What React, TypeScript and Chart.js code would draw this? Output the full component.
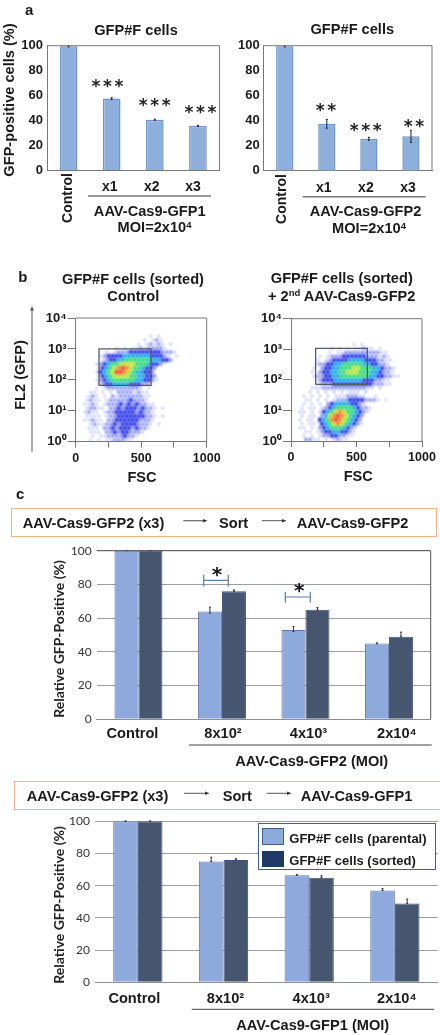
import React, { useEffect, useRef } from "react";
import { Chart, registerables } from "chart.js";

Chart.register(...registerables);

// ---------- data ----------
const aCategories = ["Control", "x1", "x2", "x3"];
const a1Values = [99.5, 57.5, 40.5, 35.5];
const a1Err = [0.4, 0.8, 0.4, 0.4];
const a2Values = [99.5, 37.5, 25.5, 27.5];
const a2Err = [0.4, 3.5, 1.2, 4.8];

const cCategories = ["Control", "8x10²", "4x10³", "2x10⁴"];
const c1Parental = [100, 64, 53, 45];
const c1ParentalPlus = [0.2, 2.5, 2, 0.3];
const c1ParentalMinus = [0, 1, 1, 0.2];
const c1Sorted = [100, 76, 65, 49];
const c1SortedPlus = [0.2, 0.7, 1.3, 2.7];
const c1SortedMinus = [0, 0, 0, 0];
const c2Parental = [100, 75, 66.5, 57];
const c2ParentalPlus = [0.2, 2.7, 0.5, 1.2];
const c2ParentalMinus = [0, 0, 0, 0];
const c2Sorted = [100, 76, 65, 49];
const c2SortedPlus = [0.2, 0.8, 1.2, 2.7];
const c2SortedMinus = [0, 0, 0, 0];

const yTicks = [0, 20, 40, 60, 80, 100];
const fscTicks = [0, 250, 500, 750, 1000];
const fscLabels = ["0", "", "500", "", "1000"];
const flTicks = [1, 10, 100, 1000, 10000];
const flLabels = ["10⁰", "10¹", "10²", "10³", "10⁴"];

const gate1X = [178, 575, 575, 178, 178];
const gate1Y = [66, 66, 1000, 1000, 66];
const gate2X = [188, 583, 583, 188, 188];
const gate2Y = [71, 71, 1070, 1070, 71];

// density, by cell: . = none, 1 sparse ... 8 peak
const density1 = [
  ".................................",
  ".................................",
  ".................................",
  ".................................",
  "..................1.1............",
  ".................1.121...........",
  "...............1.12121.1.........",
  "..........1.1.112122221..........",
  ".......1.1222333333332221........",
  "......123333444444433321.1.......",
  "......123344555555444332.........",
  ".....12345566665554332...........",
  ".....134567876554332.............",
  ".....134568876544332.............",
  ".....134566665544332.............",
  ".....1234555555443321............",
  ".....12334444333221..............",
  ".....1.1222222221.1..............",
  "...11.1.1.22221211...............",
  "...121.1.2122222211..............",
  "..1211.12222232221...............",
  "..1121.1222323232211.............",
  "..12211.223233323221.1...........",
  "..1211.1223333323221.............",
  "..1111.1223333333221.1...........",
  "..11211.223333332221.............",
  "...1211223233332221.1............",
  "...111.223233323221..............",
  "...111.2232332221................",
  "....1.1122223221.................",
  "...1.1.1122211...................",
];
const density2 = [
  ".................................",
  ".................................",
  ".................................",
  ".................................",
  ".................................",
  ".................................",
  "...............1.1...............",
  "..........1.1.1.11211.1..........",
  ".........1.1122222222211.........",
  ".......1.1222333333222121........",
  "......1.12333344443332211........",
  "......1223344555554433221........",
  ".....1.2334455566555443221.......",
  ".....1.2334455666555443221.......",
  ".....1223344555555544332211......",
  "......1233344444443332211........",
  "......1222333333333322211........",
  ".....1112222222222211.1..........",
  "....1.1.1.1.1.111.1..............",
  "...1.1.1.1.11122211..1...........",
  "...11.1.1.122233332221.1.........",
  "...1.1.1.2344443321..............",
  "..1.11.1234555543221.............",
  "..11.1.1345676554321.............",
  "..1.11.24678765432...............",
  "..1.11.34578765432...............",
  "..1.11.34567654321...............",
  "..11.1.2345554321................",
  "...11.1233443321.................",
  "...1.1.122332211.................",
  "...2211.1.1211...................",
];
const densityColors = ["", "#8b93f4", "#5f6cf0", "#2530e4", "#12a4ea", "#28d878", "#b4e428", "#f08a14", "#e8401a"];
const densitySizes = [0, 1.3, 2, 2.9, 2.9, 2.9, 2.9, 2.9, 2.9];

// ---------- chart helpers ----------
type Box = { l: number; t: number; r: number; b: number };
type Rect = { left: number; top: number; w: number; h: number };

const framePlugin = (sides: string, color: string, width = 1) => ({
  id: "frame",
  afterDatasetsDraw(chart: any) {
    const { ctx, chartArea: a } = chart;
    ctx.save();
    ctx.strokeStyle = color;
    ctx.lineWidth = width;
    ctx.beginPath();
    if (sides.includes("t")) { ctx.moveTo(a.left, a.top); ctx.lineTo(a.right, a.top); }
    if (sides.includes("r")) { ctx.moveTo(a.right, a.top); ctx.lineTo(a.right, a.bottom); }
    if (sides.includes("l")) { ctx.moveTo(a.left, a.top); ctx.lineTo(a.left, a.bottom); }
    if (sides.includes("b")) { ctx.moveTo(a.left, a.bottom); ctx.lineTo(a.right, a.bottom); }
    ctx.stroke();
    ctx.restore();
  },
});

const errorPlugin = (errs: { plus: number[]; minus: number[] }[], color: string) => ({
  id: "errorBars",
  afterDatasetsDraw(chart: any) {
    const { ctx, scales } = chart;
    ctx.save();
    ctx.strokeStyle = color;
    ctx.lineWidth = 1;
    errs.forEach((e, di) => {
      const meta = chart.getDatasetMeta(di);
      meta.data.forEach((bar: any, i: number) => {
        const v = chart.data.datasets[di].data[i];
        const hi = scales.y.getPixelForValue(v + e.plus[i]);
        const lo = scales.y.getPixelForValue(v - e.minus[i]);
        ctx.beginPath();
        ctx.moveTo(bar.x, hi);
        ctx.lineTo(bar.x, lo);
        ctx.moveTo(bar.x - 1, hi);
        ctx.lineTo(bar.x + 1, hi);
        ctx.moveTo(bar.x - 1, lo);
        ctx.lineTo(bar.x + 1, lo);
        ctx.stroke();
      });
    });
    ctx.restore();
  },
});

const labelShiftPlugin = (shift: number[]) => ({
  id: "labelShift",
  afterUpdate(chart: any) {
    const items = chart.scales.x.getLabelItems();
    items.forEach((it: any, i: number) => {
      it.options.translation[0] += shift[i] || 0;
    });
  },
});

const blurPlugin = {
  id: "densityBlur",
  beforeDatasetDraw(chart: any, args: any) {
    if (chart.data.datasets[args.index].isDensity) {
      chart.ctx.save();
      chart.ctx.filter = "blur(0.8px)";
    }
  },
  afterDatasetDraw(chart: any, args: any) {
    if (chart.data.datasets[args.index].isDensity) chart.ctx.restore();
  },
};

function fit(rect: Rect, plot: Box) {
  return {
    responsive: false,
    animation: false as const,
    maintainAspectRatio: false,
    layout: {
      autoPadding: false,
      padding: { top: plot.t - rect.top, right: rect.left + rect.w - plot.r, left: 0, bottom: 0 },
    },
    plugins: { legend: { display: false }, tooltip: { enabled: false }, title: { display: false } },
  };
}

function barChart(
  canvas: HTMLCanvasElement,
  rect: Rect,
  plot: Box,
  labels: string[],
  sets: any[],
  scaleStyle: any,
  plugins: any[],
) {
  const base = fit(rect, plot);
  return new Chart(canvas, {
    type: "bar",
    data: { labels, datasets: sets },
    options: {
      ...base,
      scales: {
        x: {
          afterFit(s: any) { s.height = rect.top + rect.h - plot.b; },
          grid: { display: false, drawTicks: false },
          border: { display: true, color: scaleStyle.axisColor, width: scaleStyle.axisWidth ?? 1 },
          ticks: {
            maxRotation: 0,
            autoSkip: false,
            padding: scaleStyle.xPad,
            color: "#1a1a1a",
            font: { family: "Liberation Sans", weight: "bold", size: scaleStyle.xSize },
            callback: scaleStyle.xCallback,
          },
        },
        y: {
          min: 0,
          max: 100,
          afterFit(s: any) { s.width = plot.l - rect.left; },
          afterBuildTicks(s: any) { s.ticks = yTicks.map((value) => ({ value })); },
          grid: { ...scaleStyle.grid, drawTicks: false },
          border: { display: scaleStyle.leftAxis ?? false, color: scaleStyle.axisColor },
          ticks: { padding: scaleStyle.yPad, color: scaleStyle.yColor, font: scaleStyle.yFont },
        },
      },
    } as any,
    plugins,
  });
}

function densitySets(rows: string[], gx: number[], gy: number[]) {
  const sets: any[] = [];
  for (let level = 1; level < densityColors.length; level++) {
    const pts: { x: number; y: number }[] = [];
    rows.forEach((row, r) => {
      for (let c = 0; c < row.length; c++) {
        if (row[c] === String(level)) {
          pts.push({
            x: ((c + (r % 2 ? 0.25 : 0.75)) * 4 / 131) * 1000,
            y: Math.pow(10, 4 - ((r + 0.5) * 4 / 123.5) * 4),
          });
        }
      }
    });
    sets.push({
      isDensity: true,
      data: pts,
      order: 20 - level,
      pointStyle: "rect",
      pointRadius: densitySizes[level],
      borderWidth: 0,
      pointBorderWidth: 0,
      backgroundColor: densityColors[level],
    });
  }
  sets.push({
    data: gx.map((x, i) => ({ x, y: gy[i] })),
    showLine: true,
    order: 0,
    pointRadius: 0,
    borderColor: "#555b66",
    borderWidth: 1.3,
  });
  return sets;
}

function flowChart(canvas: HTMLCanvasElement, rect: Rect, plot: Box, rows: string[], gx: number[], gy: number[]) {
  const base = fit(rect, plot);
  return new Chart(canvas, {
    type: "scatter",
    data: { datasets: densitySets(rows, gx, gy) },
    options: {
      ...base,
      scales: {
        x: {
          type: "linear",
          min: 0,
          max: 1000,
          afterFit(s: any) { s.height = rect.top + rect.h - plot.b; },
          afterBuildTicks(s: any) { s.ticks = fscTicks.map((value) => ({ value })); },
          grid: { drawOnChartArea: false, color: "#777", tickLength: 6 },
          border: { color: "#777" },
          ticks: {
            maxRotation: 0,
            autoSkip: false,
            padding: 3,
            color: "#1a1a1a",
            font: { family: "Liberation Sans", weight: "bold", size: 12.5 },
            callback: (_: any, i: number) => fscLabels[i],
          },
        },
        y: {
          type: "logarithmic",
          min: 1,
          max: 10000,
          afterFit(s: any) { s.width = plot.l - rect.left; },
          afterBuildTicks(s: any) { s.ticks = flTicks.map((value) => ({ value })); },
          grid: { drawOnChartArea: false, color: "#777", tickLength: 8 },
          border: { color: "#777" },
          ticks: {
            padding: 1,
            color: "#1a1a1a",
            font: { family: "Liberation Sans", weight: "bold", size: 13 },
            callback: (_: any, i: number) => flLabels[i],
          },
        },
      },
    } as any,
    plugins: [blurPlugin, framePlugin("tr", "#777")],
  });
}

// ---------- layout ----------
const rects = {
  a1: { left: 0, top: 25, w: 225, h: 180 },
  a2: { left: 225, top: 25, w: 215, h: 180 },
  b1: { left: 30, top: 295, w: 195, h: 175 },
  b2: { left: 240, top: 295, w: 200, h: 175 },
  c1: { left: 65, top: 530, w: 375, h: 215 },
  c2: { left: 65, top: 800, w: 375, h: 207 },
};
const plots = {
  a1: { l: 47, t: 45.7, r: 219.5, b: 170 },
  a2: { l: 263.7, t: 45.7, r: 432, b: 170.7 },
  b1: { l: 75.7, t: 318, r: 206.7, b: 441.7 },
  b2: { l: 291, t: 318.7, r: 422, b: 441 },
  c1: { l: 96.7, t: 550.7, r: 430.7, b: 719.3 },
  c2: { l: 95, t: 821.3, r: 437.7, b: 982.3 },
};

const ARIAL = "'Liberation Sans', Arial, sans-serif";

function T({ x, y, size = 14.6, rot, anchor = "c", color = "#1a1a1a", ls, font = ARIAL, weight = "bold", children }: any) {
  const tx = anchor === "c" ? "-50%" : "0";
  return (
    <div
      style={{
        position: "absolute",
        left: x,
        top: y,
        transform: `translate(${tx},-50%)${rot ? ` rotate(${rot}deg)` : ""}`,
        fontFamily: font,
        fontWeight: weight,
        fontSize: size,
        lineHeight: 1,
        whiteSpace: "nowrap",
        color,
        letterSpacing: ls,
      }}
    >
      {children}
    </div>
  );
}
const Sup = ({ children }: any) => (
  <sup style={{ fontSize: "0.65em", verticalAlign: "baseline", position: "relative", top: "-0.45em", lineHeight: 0 }}>{children}</sup>
);
const Stars = ({ x, y, text }: any) => (
  <T x={x + 1} y={y + 3} size={17} ls={2.6} font="'DejaVu Sans', sans-serif" weight="bold" color="#222">
    {text}
  </T>
);
const Box2 = ({ l, t, r, b }: any) => (
  <div style={{ position: "absolute", left: l, top: t, width: r - l, height: b - t, boxSizing: "border-box", border: "1.5px solid #f2b28a", background: "#fff" }} />
);

export default function App() {
  const a1 = useRef<HTMLCanvasElement>(null);
  const a2 = useRef<HTMLCanvasElement>(null);
  const b1 = useRef<HTMLCanvasElement>(null);
  const b2 = useRef<HTMLCanvasElement>(null);
  const c1 = useRef<HTMLCanvasElement>(null);
  const c2 = useRef<HTMLCanvasElement>(null);

  useEffect(() => {
    const aStyle = {
      axisColor: "#777",
      xPad: 9,
      xSize: 14,
      grid: { display: false },
      leftAxis: true,
      yPad: 4,
      yColor: "#1a1a1a",
      yFont: { family: "Liberation Sans", weight: "bold", size: 13 },
      xCallback: (_: any, i: number) => (i === 0 ? "" : aCategories[i]),
    };
    const cStyle = {
      axisColor: "#8a8f96",
      axisWidth: 1,
      xSize: 14.6,
      grid: { color: "#9a9ea4", lineWidth: 1 },
      yPad: 5,
      yColor: "#333",
      yFont: { family: "Lato", size: 12 },
      xCallback: (_: any, i: number) => cCategories[i],
    };
    const aSet = (data: number[]) => ({
      data,
      backgroundColor: "#8eaedb",
      borderColor: "#6f95ca",
      borderWidth: 1.5,
      barPercentage: 0.41,
      categoryPercentage: 1,
    });
    const cSet = (data: number[], dark: boolean) => ({
      data,
      backgroundColor: dark ? "#46566f" : "#8ea9db",
      borderColor: dark ? "#3d5478" : "#5d7cb0",
      borderWidth: 1,
      barPercentage: 1,
      categoryPercentage: 0.575,
    });

    const charts = [
      barChart(a1.current!, rects.a1, plots.a1, aCategories, [aSet(a1Values)], aStyle, [
        errorPlugin([{ plus: a1Err, minus: a1Err }], "#222"),
        framePlugin("tr", "#777"),
        labelShiftPlugin([0, -2, -3, -5]),
      ]),
      barChart(a2.current!, rects.a2, plots.a2, aCategories, [aSet(a2Values)], aStyle, [
        errorPlugin([{ plus: a2Err, minus: a2Err }], "#222"),
        framePlugin("tr", "#777"),
        labelShiftPlugin([0, -3, -3, -3]),
      ]),
      flowChart(b1.current!, rects.b1, plots.b1, density1, gate1X, gate1Y),
      flowChart(b2.current!, rects.b2, plots.b2, density2, gate2X, gate2Y),
      barChart(
        c1.current!,
        rects.c1,
        plots.c1,
        cCategories,
        [cSet(c1Parental, false), cSet(c1Sorted, true)],
        { ...cStyle, xPad: 6 },
        [
          errorPlugin(
            [
              { plus: c1ParentalPlus, minus: c1ParentalMinus },
              { plus: c1SortedPlus, minus: c1SortedMinus },
            ],
            "#333",
          ),
          framePlugin("tr", "#555"),
          labelShiftPlugin([-6, 1, 3, 8]),
        ],
      ),
      barChart(
        c2.current!,
        rects.c2,
        plots.c2,
        cCategories,
        [cSet(c2Parental, false), cSet(c2Sorted, true)],
        { ...cStyle, xPad: 8 },
        [
          errorPlugin(
            [
              { plus: c2ParentalPlus, minus: c2ParentalMinus },
              { plus: c2SortedPlus, minus: c2SortedMinus },
            ],
            "#333",
          ),
          labelShiftPlugin([-3.5, 2, 2, 2]),
        ],
      ),
    ];
    return () => charts.forEach((c) => c.destroy());
  }, []);

  const cv = (ref: any, r: Rect) => (
    <canvas ref={ref} width={r.w} height={r.h} style={{ position: "absolute", left: r.left, top: r.top, width: r.w, height: r.h, display: "block" }} />
  );

  return (
    <div style={{ position: "absolute", left: 0, top: 0, width: 440, height: 1035, overflow: "hidden", background: "#fff" }}>
      <Box2 l={10.7} t={507.7} r={436.7} b={537.3} />
      <Box2 l={14.3} t={780.7} r={441} b={810} />

      {cv(a1, rects.a1)}
      {cv(a2, rects.a2)}
      {cv(b1, rects.b1)}
      {cv(b2, rects.b2)}
      {cv(c1, rects.c1)}
      {cv(c2, rects.c2)}

      <svg width={440} height={1035} style={{ position: "absolute", left: 0, top: 0, pointerEvents: "none" }}>
        <g stroke="#777" strokeWidth={1.5}>
          <line x1={88} y1={196} x2={211} y2={196} />
          <line x1={302.7} y1={196.7} x2={425.7} y2={196.7} />
        </g>
        <g stroke="#444" strokeWidth={1}>
          <line x1={189} y1={745} x2={431.7} y2={745} />
          <line x1={191.7} y1={1009.3} x2={434.3} y2={1009.3} />
        </g>
        <g stroke="#555" strokeWidth={1} fill="#555">
          <line x1={32} y1={308} x2={32} y2={451.7} />
          <path d="M32 306.5 L30 310.5 L34 310.5 Z" stroke="none" />
        </g>
        <g stroke="#5f7d9e" strokeWidth={1.2} fill="none">
          <path d="M203.7 575 V586.7 M203.7 580.3 H228.3 M228.3 575 V586.7" />
          <path d="M285.3 591.7 V602.7 M285.3 597 H310.3 M310.3 591.7 V602.7" />
        </g>
        <g stroke="#555" strokeWidth={1} fill="#333">
          <line x1={183.3} y1={520.7} x2={205} y2={520.7} stroke="#666" strokeWidth={1.2} />
          <path d="M207.5 520.7 L203 519 L203 522.4 Z" stroke="none" />
          <line x1={262} y1={520.7} x2={284} y2={520.7} />
          <path d="M286.5 520.7 L282 519 L282 522.4 Z" stroke="none" />
          <line x1={184} y1={793.3} x2={207} y2={793.3} />
          <path d="M209.5 793.3 L205 791.6 L205 795 Z" stroke="none" />
          <line x1={266.7} y1={793.3} x2={289} y2={793.3} />
          <path d="M291.5 793.3 L287 791.6 L287 795 Z" stroke="none" />
        </g>
      </svg>

      {/* panel a */}
      <T x={25} y={9} size={15} anchor="l">a</T>
      <T x={136} y={30}>GFP#F cells</T>
      <T x={352.3} y={29}>GFP#F cells</T>
      <T x={8.5} y={100} rot={-90}>GFP-positive cells (%)</T>
      <T x={66.7} y={198} size={14} rot={-90}>Control</T>
      <T x={281} y={198.7} size={14} rot={-90}>Control</T>
      <T x={149.7} y={210.7}>AAV-Cas9-GFP1</T>
      <T x={154.5} y={227}>MOI=2x10<Sup>4</Sup></T>
      <T x={365.5} y={210.7}>AAV-Cas9-GFP2</T>
      <T x={369} y={228}>MOI=2x10<Sup>4</Sup></T>
      <Stars x={107.8} y={82.7} text="***" />
      <Stars x={155} y={101.7} text="***" />
      <Stars x={200.7} y={109.3} text="***" />
      <Stars x={326.3} y={107.3} text="**" />
      <Stars x={366} y={126.7} text="***" />
      <Stars x={414.3} y={122.7} text="**" />

      {/* panel b */}
      <T x={18.3} y={275.7} size={15} anchor="l">b</T>
      <T x={133} y={279.3}>GFP#F cells (sorted)</T>
      <T x={133.3} y={296}>Control</T>
      <T x={341.8} y={278}>GFP#F cells (sorted)</T>
      <T x={341.7} y={295.7}>+ 2<Sup>nd</Sup> AAV-Cas9-GFP2</T>
      <T x={20} y={374.7} rot={-90}>FL2 (GFP)</T>
      <T x={142} y={477}>FSC</T>
      <T x={358.3} y={476}>FSC</T>

      {/* panel c */}
      <T x={16} y={493.3} size={15} anchor="l">c</T>
      <T x={22.7} y={523.3} anchor="l">AAV-Cas9-GFP2 (x3)</T>
      <T x={219} y={523.3} anchor="l">Sort</T>
      <T x={296.7} y={523.3} anchor="l">AAV-Cas9-GFP2</T>
      <T x={59} y={638.7} size={14} rot={-90} font="Lato" color="#222">Relative GFP-Positive (%)</T>
      <T x={311.7} y={760.7}>AAV-Cas9-GFP2 (MOI)</T>
      <T x={217} y={574} size={20} font="'DejaVu Sans', sans-serif" weight="bold" color="#111">*</T>
      <T x={299.3} y={590} size={20} font="'DejaVu Sans', sans-serif" weight="bold" color="#111">*</T>

      <T x={26.7} y={795.7} anchor="l">AAV-Cas9-GFP2 (x3)</T>
      <T x={222.7} y={795.7} anchor="l">Sort</T>
      <T x={300.7} y={795.7} anchor="l">AAV-Cas9-GFP1</T>
      <T x={59} y={904.7} size={14} rot={-90} font="Lato" color="#222">Relative GFP-Positive (%)</T>
      <T x={312.7} y={1025}>AAV-Cas9-GFP1 (MOI)</T>

      {/* legend */}
      <div style={{ position: "absolute", left: 258.3, top: 823, width: 177.7, height: 47, boxSizing: "border-box", border: "1px solid #3f5f8f", background: "#fff" }} />
      <div style={{ position: "absolute", left: 262.3, top: 828.3, width: 22, height: 16.7, boxSizing: "border-box", border: "1px solid #3f5f8f", background: "#8ea9db" }} />
      <div style={{ position: "absolute", left: 262.3, top: 851, width: 22, height: 16.3, background: "#1f3864" }} />
      <T x={289.3} y={837.7} size={13} anchor="l">GFP#F cells (parental)</T>
      <T x={289.3} y={860} size={13} anchor="l">GFP#F cells (sorted)</T>
    </div>
  );
}
